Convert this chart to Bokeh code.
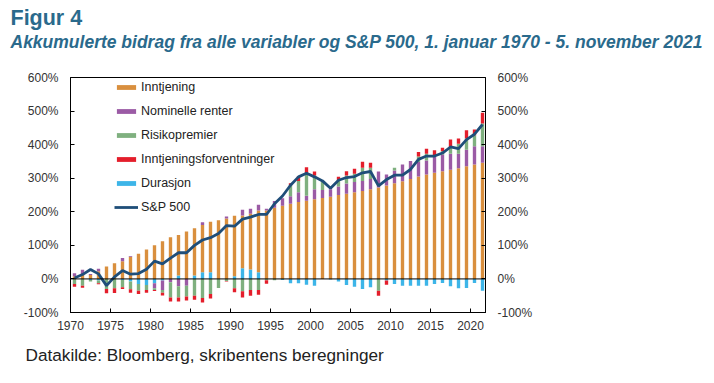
import numpy as np
from bokeh.plotting import figure
from bokeh.models import (Range1d, LinearAxis, FixedTicker, PrintfTickFormatter,
                          Title, Legend, LegendItem, Span, ColumnDataSource)
from bokeh.embed import file_html
from bokeh.resources import INLINE

years = list(range(1970, 2022))

inntjening = [8, 14, 12, 23, 37, 47, 53, 66, 75, 88,
              100, 112, 124, 121, 141, 141, 141, 150, 175, 180,
              180, 157, 166, 184, 204, 212, 218, 224, 229, 233,
              237, 241, 245, 250, 254, 258, 262, 267, 272, 278,
              285, 291, 298, 305, 311, 316, 321, 325, 330, 336,
              341, 346]
nominelle_renter = [9, 13, 3, 7, 0, 0, 9, 2, 0, 0,
                    -15, -28, -10, -22, -20, 0, 8, 0, 0, 6,
                    0, 17, 15, 17, 5, 20, 22, 22, 29, 15,
                    30, 24, 22, 25, 30, 31, 30, 31, 48, 33,
                    38, 50, 53, 43, 42, 47, 50, 48, 43, 49,
                    54, 49]
risikopremier = [-15, -20, -5, -8, -30, -28, -22, -23, -20, -15,
                 -5, -8, -45, -33, -32, -50, -57, -45, -27, -6,
                 -28, -37, -33, -33, -4, -4, 0, 33, 34, 67,
                 41, 25, 0, 20, 24, 24, 39, 33, -35, 0,
                 8, 0, 0, 17, 20, 5, 9, 20, 30, 33,
                 33, 68]
inntjeningsforventninger = [-8, -6, 0, -3, -13, -14, -5, -10, -10, -8,
                            -3, -8, -12, -12, -12, -12, -13, -13, 0, -2,
                            -12, -18, -17, -14, -10, 0, 0, 6, 14, 18,
                            12, 0, 0, 9, 13, 15, 18, 15, -15, -12,
                            0, 0, 0, 13, 15, 15, 11, 22, 15, 25,
                            17, 32]
durasjon = [0, 0, -3, -5, 0, 0, -3, -8, -15, -18,
            -13, -5, 0, 10, 0, 10, 20, 20, 0, 0,
            8, 32, 28, 20, 0, 0, -3, -13, -13, -17,
            -20, 0, -2, -8, -18, -23, -30, -25, 0, -5,
            -15, -20, -20, -20, -20, -15, -12, -22, -28, -27,
            -12, -35]
sp500 = [3, 13, 28, 15, -20, 6, 25, 14, 16, 29,
         53, 45, 62, 78, 78, 100, 116, 123, 135, 159,
         157, 178, 184, 192, 192, 224, 247, 279, 304, 315,
         304, 292, 270, 294, 302, 305, 316, 320, 277, 296,
         309, 309, 326, 356, 366, 366, 375, 393, 388, 415,
         431, 460]

series_names = ["Inntjening", "Nominelle renter", "Risikopremier",
                "Inntjeningsforventninger", "Durasjon"]
series_vals = [inntjening, nominelle_renter, risikopremier,
               inntjeningsforventninger, durasjon]
colors = ["#D98F3E", "#9B5BA5", "#7FB07F", "#E41E2B", "#3DB5E8"]
# stacking order (closest to zero first)
stack_order = [4, 0, 1, 2, 3]

FONT = "Liberation Sans"
TXT = "#333333"
TITLE_COLOR = "#2A6A8C"

x = np.array(years) + 0.5

W, H = 714, 383
p = figure(width=W, height=H, output_backend="svg", toolbar_location=None,
           x_range=Range1d(1970, 2021.875), y_range=Range1d(-100, 600),
           min_border_left=70, min_border_right=W - 485, min_border_top=77,
           min_border_bottom=H - 312)
p.background_fill_color = "white"
p.border_fill_color = "white"
p.outline_line_color = "black"
p.grid.visible = False

pos_base = np.zeros(len(years))
neg_base = np.zeros(len(years))
renderers = {}
for idx in stack_order:
    v = np.array(series_vals[idx], dtype=float)
    pv = np.clip(v, 0, None)
    nv = np.clip(v, None, 0)
    src_p = ColumnDataSource(dict(x=x, bottom=pos_base.copy(), top=pos_base + pv))
    src_n = ColumnDataSource(dict(x=x, bottom=neg_base + nv, top=neg_base.copy()))
    rp = p.vbar(x="x", bottom="bottom", top="top", width=0.42, source=src_p,
                fill_color=colors[idx], line_color=None)
    p.vbar(x="x", bottom="bottom", top="top", width=0.42, source=src_n,
           fill_color=colors[idx], line_color=None)
    renderers[idx] = rp
    pos_base = pos_base + pv
    neg_base = neg_base + nv

p.add_layout(Span(location=0, dimension="width", line_color="black", line_width=1))

ln = p.line(x, sp500, line_color="#1F4E79", line_width=2.8)

items = [LegendItem(label=series_names[i], renderers=[renderers[i]]) for i in range(5)]
items.append(LegendItem(label="S&P 500", renderers=[ln]))
leg = Legend(items=items, location=(44, 98), orientation="vertical",
             glyph_width=24, glyph_height=6, label_height=13, spacing=10,
             padding=0, margin=0, label_standoff=3,
             label_text_font=FONT, label_text_font_size="12.5px",
             label_text_color="#222222",
             border_line_color=None, background_fill_alpha=0)
p.add_layout(leg)

ticks = list(range(-100, 601, 100))
p.yaxis.ticker = FixedTicker(ticks=ticks)
p.yaxis.formatter = PrintfTickFormatter(format="%d%%")
raxis = LinearAxis(ticker=FixedTicker(ticks=ticks), formatter=PrintfTickFormatter(format="%d%%"))
p.add_layout(raxis, "right")
p.xaxis.ticker = FixedTicker(ticks=list(range(1970, 2021, 5)))

for ax in [p.xaxis[0], p.yaxis[0], raxis]:
    ax.major_tick_in = 4
    ax.major_tick_out = 0
    ax.minor_tick_line_color = None
    ax.axis_line_color = "black"
    ax.major_tick_line_color = "black"
    ax.major_label_text_font = FONT
    ax.major_label_text_font_size = "12px"
    ax.major_label_text_color = TXT
p.yaxis[0].major_label_standoff = 12
raxis.major_label_standoff = 12
p.xaxis[0].major_label_standoff = 8

spacer = Title(text=" ", align="left", offset=0, standoff=13,
               text_font=FONT, text_font_size="10px", text_color="white")
sub = Title(text="Akkumulerte bidrag fra alle variabler og S&P 500, 1. januar 1970 - 5. november 2021",
            align="left", offset=-60, standoff=0,
            text_font=FONT, text_font_size="17.5px", text_font_style="bold italic",
            text_color=TITLE_COLOR)
ttl = Title(text="Figur 4", align="left", offset=-60, standoff=0,
            text_font=FONT, text_font_size="21.5px", text_font_style="bold",
            text_color=TITLE_COLOR)
p.add_layout(spacer, "above")
p.add_layout(sub, "above")
p.add_layout(ttl, "above")
src_note = Title(text="Datakilde: Bloomberg, skribentens beregninger", align="left",
                 offset=-45, standoff=20,
                 text_font=FONT, text_font_size="17.2px", text_font_style="normal",
                 text_color="#222222")
p.add_layout(src_note, "below")

open("out.html", "w").write(file_html(p, INLINE))
